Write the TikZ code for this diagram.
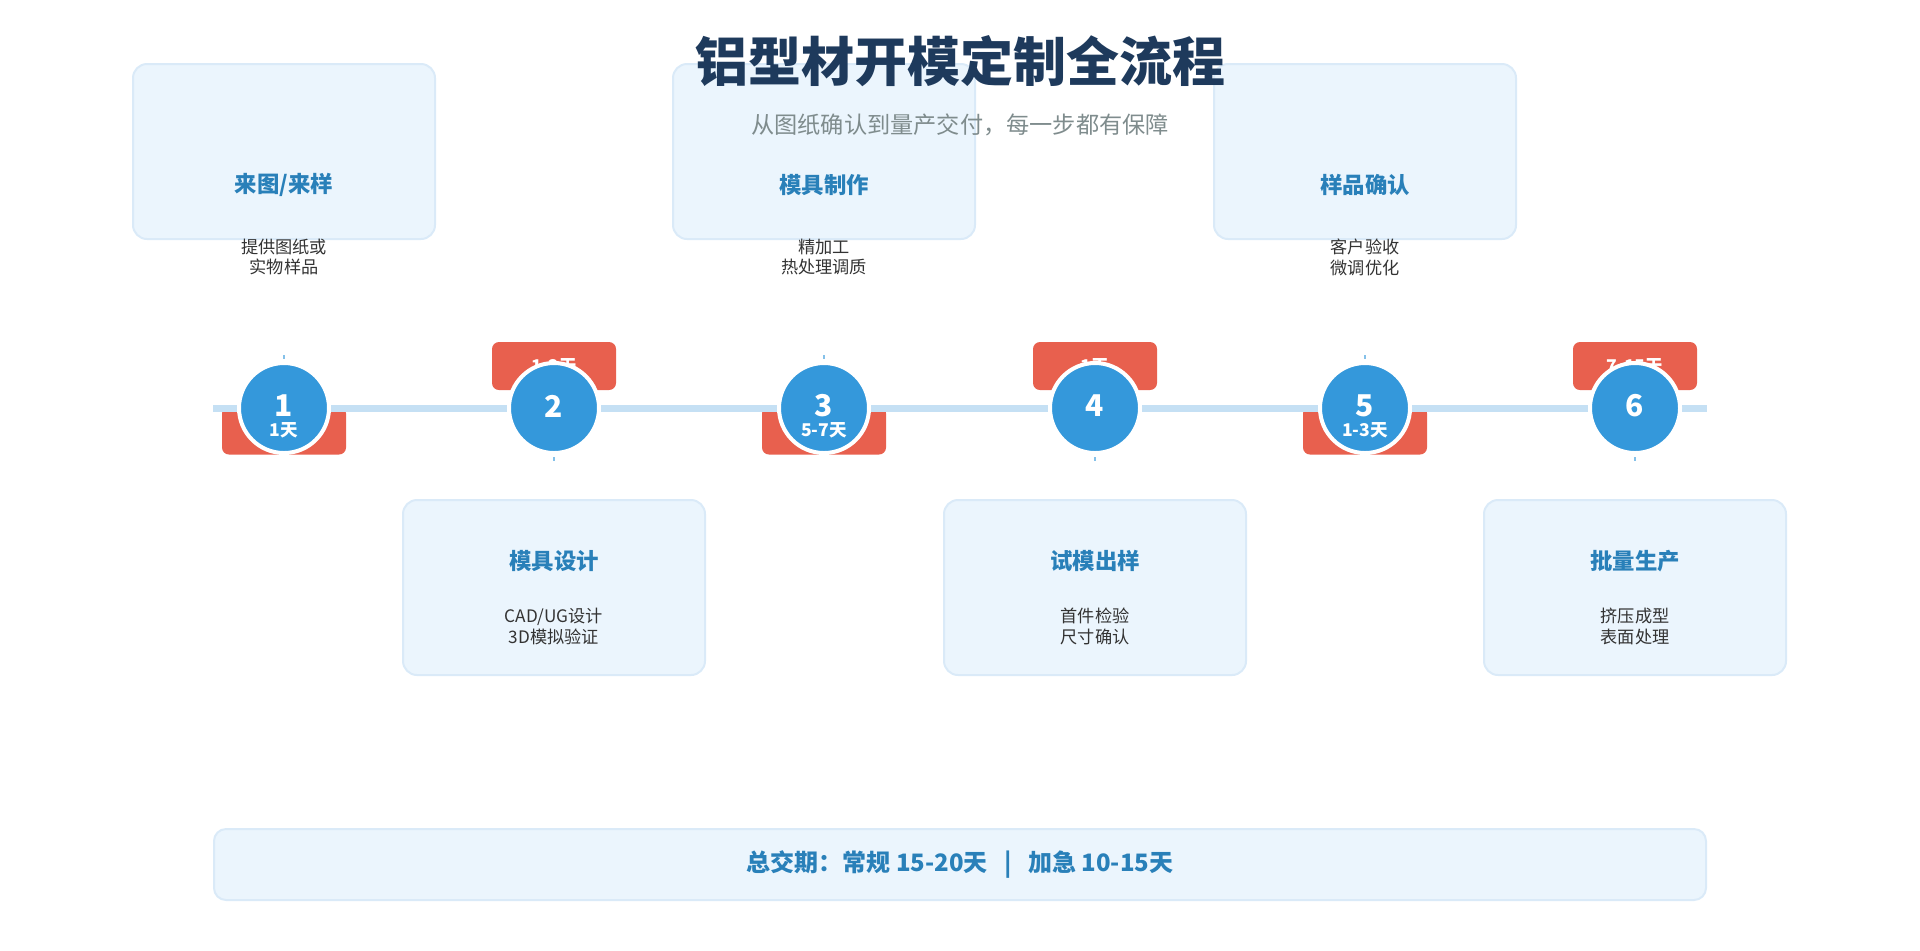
\documentclass[tikz,border=0pt]{standalone}
\usepackage{fontspec}
\setmainfont{Noto Sans CJK SC}
\usetikzlibrary{positioning}

\definecolor{titleblue}{RGB}{30,58,92}
\definecolor{subgray}{RGB}{127,140,141}
\definecolor{stepblue}{RGB}{41,128,185}
\definecolor{circblue}{RGB}{52,152,219}
\definecolor{boxfill}{RGB}{235,245,253}
\definecolor{boxline}{RGB}{218,234,248}
\definecolor{railblue}{RGB}{197,224,244}
\definecolor{badgered}{RGB}{232,96,78}
\definecolor{desctext}{RGB}{51,51,51}

\begin{document}
\begin{tikzpicture}[x=0.5pt,y=-0.5pt,
    stepbox/.style={draw=boxline,fill=boxfill,line width=1pt,rounded corners=7pt,
                    minimum width=151pt,minimum height=87.5pt,inner sep=0pt},
    boxtitle/.style={text=stepblue,font=\fontsize{11.2pt}{13pt}\selectfont\bfseries,inner sep=0pt},
    boxdesc/.style={text=desctext,font=\fontsize{8.6pt}{10.4pt}\selectfont,align=center,inner sep=0pt},
    badge/.style={fill=badgered,rounded corners=3.5pt,minimum width=62pt,minimum height=24pt,inner sep=0pt},
    badgetext/.style={text=white,font=\fontsize{8.8pt}{10pt}\selectfont\bfseries,inner sep=0pt},
    stepcircle/.style={circle,fill=circblue,draw=white,line width=2pt,minimum size=45pt,inner sep=0pt},
    stepnum/.style={text=white,font=\fontsize{15pt}{17pt}\selectfont\bfseries,inner sep=0pt},
    tick/.style={draw=circblue!60,line width=1pt}]
\useasboundingbox (0,0) rectangle (1920,950);

% step cards
\foreach \i/\x/\by/\ty/\dy/\name/\desc in {
    1/284/151.5/185/256/{来图/来样}/{提供图纸或\\实物样品},
    2/554/587.5/561/625.5/模具设计/{CAD/UG设计\\3D模拟验证},
    3/824/151.5/185/256/模具制作/{精加工\\热处理调质},
    4/1095/587.5/561/625.5/试模出样/{首件检验\\尺寸确认},
    5/1365/151.5/185/256/样品确认/{客户验收\\微调优化},
    6/1635/587.5/561/625.5/批量生产/{挤压成型\\表面处理}}{
  \node[stepbox] (box\i) at (\x,\by) {};
  \node[boxtitle] (name\i) at (\x,\ty) {\name};
  \node[boxdesc] (desc\i) at (\x,\dy+1) {\desc};
}

% heading
\node[text=titleblue,font=\fontsize{26.5pt}{30pt}\selectfont\bfseries,inner sep=0pt] (title) at (960,61) {铝型材开模定制全流程};
\node[text=subgray,font=\fontsize{11.6pt}{14pt}\selectfont,inner sep=0pt] (subtitle) at (960,125) {从图纸确认到量产交付，每一步都有保障};

% day badges
\foreach \i/\x in {1/284,3/824,5/1365}
  \node[badge] (badge\i) at (\x,430.5) {};
\foreach \i/\x/\d in {2/554/1-2天,4/1095/1天,6/1635/7-15天}{
  \node[badge] (badge\i) at (\x,366) {};
  \node[badgetext] (days\i) at (badge\i) {\d};
}

% rail
\coordinate (railL) at (213,408);
\coordinate (railR) at (1707,408);
\draw[railblue,line width=3.5pt] (railL) -- (railR);

% little ticks
\foreach \i/\x/\y in {1/284/355,2/554/457,3/824/355,4/1095/457,5/1365/355,6/1635/457}{
  \coordinate (tickA\i) at (\x,\y);
  \coordinate (tickB\i) at (\x,\y+4);
  \draw[tick] (tickA\i) -- (tickB\i);
}

% step circles
\foreach \i/\x in {1/284,2/554,3/824,4/1095,5/1365,6/1635}{
  \node[stepcircle] (step\i) at (\x,408) {};
  \node[stepnum] (num\i) at (\x,406) {\i};
}
\foreach \i/\d in {1/1天,3/5-7天,5/1-3天}
  \node[badgetext] (days\i) at (badge\i) {\d};

% total lead time
\node[draw=boxline,fill=boxfill,line width=1pt,rounded corners=6pt,minimum width=746pt,minimum height=35.5pt] (total) at (960,864.5) {};
\node[text=stepblue,font=\fontsize{12pt}{14pt}\selectfont\bfseries,inner sep=0pt] (totaltext) at (total) {总交期：常规 15-20天 \ \ | \ \ 加急 10-15天};
\end{tikzpicture}
\end{document}
